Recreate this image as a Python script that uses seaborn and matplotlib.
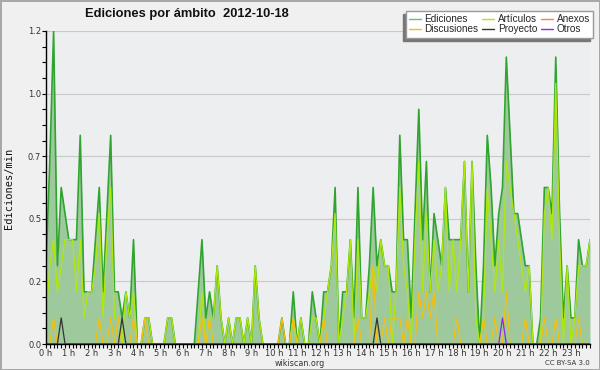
import numpy as np
import pandas as pd
import seaborn as sns
import matplotlib.pyplot as plt
from matplotlib.lines import Line2D

# edits per 10-minute slot, 144 slots from 0h00 to 23h50 (12 slots per row = 2 hours)
ediciones = [
    3, 7, 12, 3, 6, 5, 4, 4, 4, 8, 2, 2,
    2, 4, 6, 2, 5, 8, 2, 2, 1, 2, 1, 4,
    0, 0, 1, 1, 0, 0, 0, 0, 1, 1, 0, 0,
    0, 0, 0, 0, 2, 4, 1, 2, 1, 3, 1, 0,
    1, 0, 1, 1, 0, 1, 0, 3, 1, 0, 0, 0,
    0, 0, 1, 0, 0, 2, 0, 1, 0, 0, 2, 1,
    0, 2, 2, 3, 6, 0, 2, 2, 4, 1, 6, 1,
    1, 3, 6, 3, 4, 3, 3, 2, 2, 8, 4, 4,
    1, 5, 9, 4, 7, 2, 5, 4, 3, 6, 4, 4,
    4, 4, 7, 2, 7, 3, 0, 3, 8, 6, 3, 5,
    6, 11, 8, 5, 5, 4, 3, 3, 0, 0, 1, 6,
    6, 5, 11, 5, 1, 3, 1, 1, 4, 3, 3, 4,
]
articulos = [
    1, 3, 4, 2, 3, 4, 4, 4, 2, 4, 1, 2,
    2, 3, 5, 1, 4, 6, 1, 1, 0, 2, 1, 2,
    0, 0, 1, 1, 0, 0, 0, 0, 1, 1, 0, 0,
    0, 0, 0, 0, 0, 2, 0, 1, 1, 3, 1, 0,
    1, 0, 1, 1, 0, 1, 0, 3, 1, 0, 0, 0,
    0, 0, 0, 0, 0, 1, 0, 1, 0, 0, 1, 1,
    0, 1, 2, 3, 5, 0, 1, 2, 4, 0, 4, 1,
    1, 2, 3, 2, 4, 3, 3, 0, 2, 6, 3, 2,
    0, 4, 7, 2, 5, 2, 4, 2, 3, 6, 2, 4,
    2, 4, 7, 2, 7, 1, 0, 1, 6, 4, 2, 4,
    2, 7, 6, 5, 4, 3, 2, 3, 0, 0, 0, 5,
    6, 4, 10, 4, 0, 3, 0, 1, 3, 3, 3, 4,
]
discusiones = [
    0, 0, 1, 0, 0, 0, 0, 0, 0, 0, 0, 0,
    0, 0, 1, 0, 0, 1, 0, 1, 0, 0, 0, 1,
    0, 0, 1, 0, 0, 0, 0, 0, 0, 0, 0, 0,
    0, 0, 0, 0, 0, 1, 0, 1, 0, 0, 0, 0,
    0, 0, 0, 0, 0, 0, 0, 0, 0, 0, 0, 0,
    0, 0, 1, 0, 0, 1, 0, 0, 0, 0, 0, 0,
    0, 1, 0, 0, 0, 0, 0, 0, 0, 0, 1, 0,
    0, 0, 3, 0, 0, 1, 0, 1, 1, 1, 0, 1,
    0, 0, 2, 1, 2, 1, 2, 0, 0, 0, 0, 0,
    1, 0, 0, 0, 0, 0, 0, 1, 0, 0, 1, 0,
    0, 2, 0, 0, 0, 0, 1, 0, 0, 0, 0, 1,
    0, 0, 1, 0, 0, 0, 0, 0, 1, 0, 0, 0,
]
proyecto_slots = [4, 20, 87]   # slots with one edit
otros_slots = [120]
anexos_slots = []

series_names = ["Ediciones", "Discusiones", "Artículos", "Proyecto", "Anexos", "Otros"]
hour_labels = [f"{h} h" for h in range(24)]
ytick_vals = [0, 0.24, 0.48, 0.72, 0.96, 1.2]
ytick_labels = ["0.0", "0.2", "0.5", "0.7", "1.0", "1.2"]

n = len(ediciones)
t = np.arange(n) / 6.0  # hours


def per_min(counts):
    return np.asarray(counts, dtype=float) / 10.0


def from_slots(slots):
    c = np.zeros(n)
    c[slots] = 1
    return c


df = pd.DataFrame({
    "hora": t,
    "Ediciones": per_min(ediciones),
    "Artículos": per_min(articulos),
    "Discusiones": per_min(discusiones),
    "Proyecto": per_min(from_slots(proyecto_slots)),
    "Otros": per_min(from_slots(otros_slots)),
    "Anexos": per_min(from_slots(anexos_slots)),
})

colors = {
    "Ediciones": "#2fa52f",
    "Artículos": "#b0e80c",
    "Anexos": "#ff7f3f",
    "Discusiones": "#f3c010",
    "Proyecto": "#333333",
    "Otros": "#8a2be2",
}
legend_colors = dict(colors, Ediciones="#66c266")

sns.set_style("ticks")
plt.rcParams["font.family"] = ["DejaVu Sans"]

fig = plt.figure(figsize=(6, 3.7), dpi=100, facecolor="#f0f0f1", edgecolor="#a8a8a8", linewidth=2)
ax = fig.add_axes([46 / 600, 26 / 370, 544 / 600, 313 / 370])
ax.set_facecolor("#edeef0")

ax.fill_between(df["hora"], df["Ediciones"], color="#9ec99c", lw=0, zorder=1)
sns.lineplot(data=df, x="hora", y="Ediciones", ax=ax, color=colors["Ediciones"], lw=1.2, zorder=2)
for name in ["Anexos", "Artículos", "Discusiones", "Proyecto", "Otros"]:
    sns.lineplot(data=df, x="hora", y=name, ax=ax, color=colors[name], lw=0.9, zorder=2)

ax.set_xlim(0, t[-1])
ax.set_ylim(0, 1.2)
ax.set_xticks(np.arange(24))
ax.set_xticklabels(hour_labels)
ax.set_xticks(t, minor=True)
ax.set_yticks(ytick_vals)
ax.set_yticklabels(ytick_labels)
ax.set_yticks(np.arange(0, 1.21, 0.06), minor=True)
ax.tick_params(axis="both", which="both", direction="out", length=3, width=0.8,
               color="black", labelsize=6, labelcolor="#333333", pad=0.5)
ax.set_xlabel("")
ax.set_ylabel("")
ax.grid(axis="y", color="#c9c9c9", lw=0.8)
ax.grid(axis="x", visible=False)
for s in ["top", "right"]:
    ax.spines[s].set_visible(False)
for s in ["left", "bottom"]:
    ax.spines[s].set_color("black")
    ax.spines[s].set_linewidth(1)
    ax.spines[s].set_zorder(3)

fig.text(9 / 600, 0.49, "Ediciones/min", rotation=90, ha="center", va="center",
         fontsize=7.5, family="DejaVu Sans Mono", color="#111111")
fig.text(85 / 600, 1 - 14 / 370, "Ediciones por ámbito  2012-10-18", ha="left", va="center",
         fontsize=9.3, fontweight="bold", family="Liberation Sans", color="#111111")
fig.text(300 / 600, 1 - 363 / 370, "wikiscan.org", ha="center", va="center", fontsize=5.8, color="#333333")
fig.text(590 / 600, 1 - 363 / 370, "CC BY-SA 3.0", ha="right", va="center", fontsize=5, color="#333333")

handles = [Line2D([], [], color=legend_colors[nm], lw=1) for nm in series_names]
fig.legend(handles, series_names, ncol=3, loc="upper right", bbox_to_anchor=(593 / 600, 1 - 11 / 370),
           frameon=True, fancybox=False, edgecolor="#999999", facecolor="white", framealpha=1,
           shadow={"ox": -2.2, "oy": -2.2, "facecolor": "#777777", "edgecolor": "#777777", "alpha": 1},
           prop={"family": "Liberation Sans", "size": 7.2}, handlelength=1.2, handletextpad=0.35,
           columnspacing=0.4, labelspacing=0.05, borderpad=0.3, borderaxespad=0)

fig.savefig("out.png", dpi=100)
